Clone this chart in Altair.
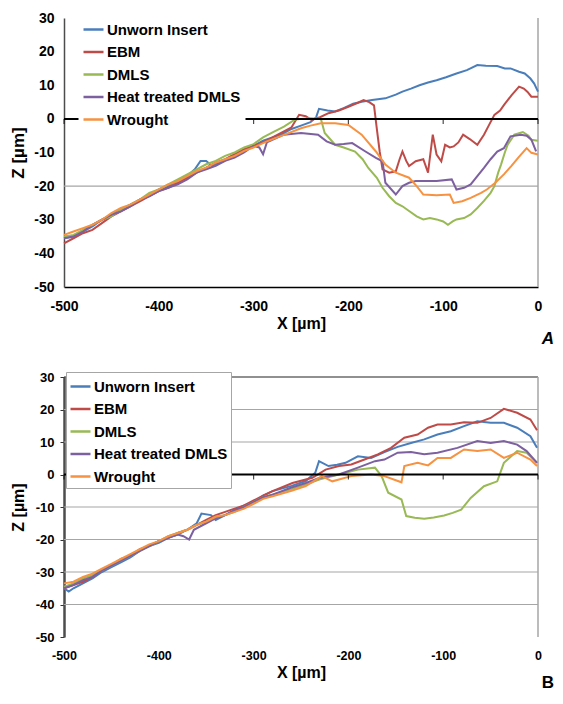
import altair as alt
import pandas as pd

SERIES = ["Unworn Insert", "EBM", "DMLS", "Heat treated DMLS", "Wrought"]
COLORS = ["#4A7EBB", "#BE4B48", "#98B954", "#7D60A0", "#F69240"]
X_TICKS = [-500, -400, -300, -200, -100, 0]
Y_TICKS = [30, 20, 10, 0, -10, -20, -30, -40, -50]

# ---------------- Panel A ----------------
a_unworn_x = [-500, -490, -480, -470, -460, -450, -440, -430, -420, -410, -400, -390, -380, -370, -362, -356, -350, -344, -335, -320, -310, -300, -290, -280, -270, -260, -250, -240, -234, -231, -222, -214, -205, -195, -186, -175, -161, -150, -143, -134, -125, -116, -107, -97, -86, -75, -64, -55, -43, -35, -29, -20, -14, -8, -4, 0]
a_unworn_z = [-35.5, -35, -33.5, -32, -30, -28.5, -27, -25.5, -24, -22.5, -21, -20, -18.5, -17, -15, -12.5, -12.5, -14, -13, -11, -9.5, -8, -6.5, -5.5, -4.5, -3, -2, -1, 0.5, 3, 2.5, 2.2, 3.2, 4.5, 5.1, 5.6, 6.1, 7.2, 8.1, 9, 10, 10.8, 11.5, 12.4, 13.5, 14.5, 16, 15.8, 15.7, 15, 15, 14, 13.5, 12, 10.5, 8.1]

a_ebm_x = [-500, -490, -480, -470, -460, -450, -440, -430, -420, -410, -400, -390, -380, -370, -360, -350, -340, -330, -320, -310, -300, -290, -280, -270, -260, -252, -245, -239, -230, -221, -210, -200, -190, -184, -178, -173, -170, -167, -164, -157, -150, -146, -143, -139, -136, -129, -121, -116, -111, -107, -102, -98, -93, -89, -84, -79, -72, -64, -57, -52, -46, -40, -36, -28, -20, -15, -11, -7, 0]
a_ebm_z = [-37, -35.5, -34, -33, -31, -29, -27.5, -26, -24.5, -23, -21.5, -20.5, -19, -17.5, -16, -14.5, -13, -12, -10.5, -9, -8, -7, -5.5, -4, -2.5, 1.2, 0.8, -0.3, 0.5, 1.7, 2.5, 3.6, 4.8, 5.6, 5, 4, -3, -9.7, -15, -16, -15.6, -12, -9.7, -12.5, -14, -12.6, -12, -16, -4.7, -10.6, -12.6, -7.7, -8.5, -8.2, -7, -4.7, -6, -7.7, -4.7, -2, 1.2, 2.5, 4.1, 7, 9.6, 9, 8, 6.6, 6.6]

a_dmls_x = [-500, -490, -480, -470, -460, -450, -440, -430, -420, -410, -400, -390, -380, -370, -360, -350, -340, -330, -320, -310, -300, -290, -280, -268, -257, -250, -240, -229, -225, -214, -205, -193, -185, -179, -170, -164, -157, -150, -143, -136, -128, -121, -114, -107, -100, -95, -90, -86, -78, -71, -64, -57, -50, -46, -42, -39, -35, -32, -25, -16, -10, -7, 0]
a_dmls_z = [-35, -34.5, -33, -31.5, -30, -29, -27, -25.5, -24, -22, -21, -19.5, -18, -16.5, -15, -13.5, -12.5, -11, -10, -8.5, -7.5, -5.5, -4, -2.3, -0.3, 0, 0.2, 0, -4.2, -7.7, -8.5, -9.7, -12, -14.6, -17.5, -20.5, -23, -25, -26, -27.4, -29, -29.9, -29.5, -29.9, -30.5, -31.5, -30.5, -29.9, -29.5, -28.4, -26.5, -24.4, -22, -20, -16, -13.6, -10, -7.7, -4.7, -3.9, -5, -6.2, -6.5]

a_heat_x = [-500, -490, -480, -470, -460, -450, -440, -430, -420, -410, -400, -390, -380, -370, -360, -350, -340, -330, -320, -310, -300, -294, -290, -286, -268, -250, -232, -223, -214, -205, -196, -182, -171, -164, -161, -150, -143, -136, -129, -118, -107, -91, -86, -78, -71, -64, -57, -50, -43, -36, -29, -18, -12, -7, -2]
a_heat_z = [-35.5, -35, -33.5, -31.5, -30, -28.5, -27.5, -26, -24, -23, -21.5, -20.5, -19.5, -18, -16, -15, -14, -12.5, -11.5, -10, -8, -8.5, -10.5, -7, -4.7, -4.2, -4.7, -6.7, -7.7, -7.5, -7.2, -9.7, -11.6, -12.6, -19, -22.5, -20, -19, -18.5, -18.5, -18.5, -18, -21, -20.5, -19.5, -17, -14.6, -12, -9.7, -8.7, -5.2, -4.7, -5, -6.2, -9.7]

a_wrought_x = [-500, -490, -480, -470, -460, -450, -440, -430, -420, -410, -400, -390, -380, -370, -360, -350, -340, -330, -320, -310, -300, -286, -270, -250, -240, -229, -214, -200, -186, -171, -161, -150, -136, -128, -121, -107, -93, -89, -80, -71, -60, -54, -45, -36, -28, -21, -12, -7, 0]
a_wrought_z = [-34.5, -33.5, -32.5, -31.5, -30, -28, -26.5, -25.5, -24, -22.5, -21, -19.5, -18.5, -17, -15.5, -14.5, -13, -12, -11, -9.5, -8.5, -6.7, -5, -2.8, -2, -1.3, -1.3, -1.8, -4.7, -9.7, -13.6, -16, -17.5, -20, -22.5, -22.7, -22.5, -25, -24.5, -23.5, -22, -21, -19, -16.5, -14, -11.6, -8.7, -10.1, -10.6]

# ---------------- Panel B ----------------
b_unworn_x = [-500, -495, -490, -480, -470, -460, -450, -440, -430, -420, -410, -400, -390, -380, -370, -360, -355, -345, -340, -330, -320, -310, -300, -290, -280, -260, -245, -235, -231, -221, -212, -203, -190, -176, -162, -148, -134, -120, -106, -92, -78, -64, -50, -36, -22, -8, -1]
b_unworn_z = [-35, -36, -35, -33.5, -32, -30, -28.5, -27, -25.5, -23.5, -22, -21, -19.5, -18.5, -17, -15, -12, -12.5, -14, -12.5, -11, -9.5, -8.5, -6.5, -5.1, -3.5, -2, 0.5, 4.1, 2.6, 3, 3.6, 5.6, 5.1, 6.9, 8.5, 9.7, 10.8, 12.3, 13.3, 14.9, 16.4, 15.9, 15.9, 14.4, 11.8, 8.2]

b_ebm_x = [-500, -490, -480, -470, -460, -450, -440, -430, -420, -410, -400, -390, -380, -370, -360, -350, -340, -330, -320, -310, -300, -290, -280, -259, -238, -224, -210, -197, -183, -169, -155, -141, -127, -116, -106, -92, -78, -64, -50, -36, -22, -8, -1]
b_ebm_z = [-35, -34, -33, -31.5, -29.5, -28, -26, -25, -23, -22, -20.5, -19.5, -18, -17, -15.5, -14, -12.5, -11.5, -10.5, -9.5, -8, -6.5, -5.1, -2.6, -1, 1.5, 2.6, 3.1, 4.6, 6.2, 8.2, 11.3, 12.3, 14.4, 15.4, 15.4, 16.1, 15.9, 17.4, 20.2, 19, 16.9, 13.6]

b_dmls_x = [-500, -490, -480, -470, -460, -450, -440, -430, -420, -410, -400, -390, -380, -370, -360, -350, -340, -330, -320, -310, -300, -290, -280, -260, -245, -230, -210, -190, -172, -165, -158, -144, -139, -130, -120, -110, -99, -90, -81, -71, -57, -43, -36, -22, -12, -1]
b_dmls_z = [-34.5, -33.5, -32, -31, -29.5, -28, -26.5, -25, -23.5, -22, -20.5, -19, -18, -17, -15.5, -14.5, -13, -12.5, -11.5, -10, -8.5, -7, -6.2, -4.5, -3.1, -1.5, 0, 1.5, 2.1, -0.5, -5.6, -7.7, -12.8, -13.3, -13.6, -13.2, -12.6, -11.8, -10.8, -7.2, -3.6, -2.1, 3.6, 7.2, 6.7, 3.6]

b_heat_x = [-500, -490, -480, -470, -460, -450, -440, -430, -420, -410, -400, -390, -380, -374, -368, -363, -350, -340, -330, -320, -310, -300, -290, -280, -260, -245, -230, -210, -190, -172, -162, -148, -134, -120, -106, -85, -64, -50, -36, -22, -12, -1]
b_heat_z = [-35, -34, -32.5, -31.5, -29.5, -28, -26.5, -25, -23.5, -22, -20.5, -19.5, -18.5, -19, -20, -17, -15, -13.5, -12.5, -11, -10, -8.5, -7, -6.2, -4, -2.6, -1, 0, 2.1, 4.1, 4.6, 6.7, 6.9, 6.2, 6.7, 8.2, 10.3, 9.7, 10.3, 9.2, 7.2, 3.6]

b_wrought_x = [-500, -490, -480, -470, -460, -450, -440, -430, -420, -410, -400, -390, -380, -370, -360, -350, -340, -330, -320, -310, -300, -290, -280, -260, -245, -228, -217, -197, -176, -162, -144, -141, -127, -116, -106, -92, -78, -64, -50, -36, -22, -8, -1]
b_wrought_z = [-33.5, -33, -31.5, -30.5, -29, -27.5, -26, -24.5, -23, -21.5, -20.5, -19, -18, -17, -15.5, -14.5, -13, -12.5, -11.5, -10.5, -9, -7.5, -6.7, -5, -3.6, -0.5, -2.1, -0.5, 0, -0.5, -2.4, 2.6, 3.6, 2.8, 5.1, 5.1, 7.7, 7.2, 7.7, 5.1, 6.7, 4.6, 2.6]


def long_df(pairs):
    rows = []
    for name, xs, zs in pairs:
        for xv, zv in zip(xs, zs):
            rows.append({"series": name, "x": xv, "z": zv})
    return pd.DataFrame(rows)


df_a = long_df([
    (SERIES[0], a_unworn_x, a_unworn_z),
    (SERIES[1], a_ebm_x, a_ebm_z),
    (SERIES[2], a_dmls_x, a_dmls_z),
    (SERIES[3], a_heat_x, a_heat_z),
    (SERIES[4], a_wrought_x, a_wrought_z),
])
df_b = long_df([
    (SERIES[0], b_unworn_x, b_unworn_z),
    (SERIES[1], b_ebm_x, b_ebm_z),
    (SERIES[2], b_dmls_x, b_dmls_z),
    (SERIES[3], b_heat_x, b_heat_z),
    (SERIES[4], b_wrought_x, b_wrought_z),
])

FONT = "Liberation Sans"
XDOM = [-500, 0]
YDOM = [-50, 30]


def make_panel(df, w, h, letter, letter_pos, letter_italic, grid_vals, top_line, bottom_line,
               ylab_size, ytick, ylab_pad, ytitle_pad, ydomain_w, xlab_size, xlab_pad, xtitle_size,
               xtitle_pad, legend_x, legend_y, legend_stroke, legend_pad, ytitle_size):
    xscale = alt.Scale(domain=XDOM, nice=False, zero=False)
    yscale = alt.Scale(domain=YDOM, nice=False, zero=False)
    xaxis = alt.Axis(values=X_TICKS, labelExpr="'' + datum.value", domain=bottom_line,
                     domainColor="black", domainWidth=1.5, ticks=False, tickSize=0,
                     labelPadding=xlab_pad, labelFontSize=xlab_size,
                     labelFontWeight="bold", labelColor="black", labelFlush=False,
                     title="X [µm]", titleFontSize=xtitle_size, titleFontWeight="bold",
                     titleColor="black", titlePadding=xtitle_pad, grid=False)
    yaxis = alt.Axis(values=Y_TICKS, labelExpr="'' + datum.value", domainColor="#4D4D4D",
                     domainWidth=ydomain_w, tickColor="#333333", tickSize=ytick, ticks=ytick > 0,
                     labelPadding=ylab_pad, labelFontSize=ylab_size, labelFontWeight="bold",
                     labelColor="black", labelFlush=False, title="Z [µm]",
                     titleFontSize=ytitle_size, titleFontWeight="bold", titleColor="black",
                     titlePadding=ytitle_pad, grid=False)
    X = lambda: alt.X("x:Q", scale=xscale, axis=xaxis)
    Y = lambda: alt.Y("z:Q", scale=yscale, axis=yaxis)

    layers = []
    layers.append(alt.Chart(pd.DataFrame({"z": grid_vals})).mark_rule(
        color="#A6A6A6", strokeWidth=1.2).encode(y=Y()))
    if top_line:
        layers.append(alt.Chart(pd.DataFrame({"z": [YDOM[1]]})).mark_rule(
            color="#222222", strokeWidth=1.2).encode(y=Y()))
    layers.append(alt.Chart(pd.DataFrame({"x": [XDOM[1]]})).mark_rule(
        color="#A6A6A6", strokeWidth=1.5).encode(x=X()))

    lines = alt.Chart(df).mark_line(strokeWidth=2).encode(
        x=X(), y=Y(),
        color=alt.Color("series:N", scale=alt.Scale(domain=SERIES, range=COLORS),
                        legend=alt.Legend(title=None, orient="none", legendX=legend_x, legendY=legend_y,
                                          symbolType="stroke", symbolSize=400, symbolStrokeWidth=2.5,
                                          labelFontSize=15, labelFontWeight="bold", labelColor="black",
                                          labelOffset=2, rowPadding=2.5, padding=legend_pad,
                                          fillColor="white", strokeColor=legend_stroke,
                                          labelLimit=300)),
    )
    layers.append(lines)

    # zero line (x axis crossing) with its tick marks
    layers.append(alt.Chart(pd.DataFrame({"z": [0]})).mark_rule(
        color="black", strokeWidth=2).encode(y=Y()))
    layers.append(alt.Chart(pd.DataFrame({"x": X_TICKS, "z": [0] * len(X_TICKS)})).mark_tick(
        orient="vertical", size=5, thickness=1.2, yOffset=2.5, color="black").encode(x=X(), y=Y()))

    txt = alt.Chart(pd.DataFrame({"t": [letter]})).mark_text(
        fontSize=17, fontWeight="bold", fontStyle="italic" if letter_italic else "normal",
        align="center", baseline="middle", color="black", font=FONT).encode(
        text="t:N", x=alt.value(letter_pos[0]), y=alt.value(letter_pos[1]))
    layers.append(txt)

    return alt.layer(*layers).properties(width=w, height=h)


panel_a = make_panel(df_a, 474, 269, "A", (484, 321), True, [-20], False, True,
                     ylab_size=14, ytick=0, ylab_pad=10, ytitle_pad=6, ydomain_w=1.5,
                     xlab_size=14, xlab_pad=12, xtitle_size=16, xtitle_pad=2,
                     legend_x=14, legend_y=-4, legend_stroke="transparent", legend_pad=4,
                     ytitle_size=17)
panel_b = make_panel(df_b, 474, 260, "B", (484, 306), False, [20, 10, -10, -20, -30, -40], True, False,
                     ylab_size=13, ytick=4, ylab_pad=6, ytitle_pad=9, ydomain_w=2.5,
                     xlab_size=12.5, xlab_pad=12, xtitle_size=16, xtitle_pad=3,
                     legend_x=2, legend_y=-5, legend_stroke="#A6A6A6", legend_pad=3,
                     ytitle_size=16)

chart = alt.concat(panel_a, panel_b, columns=1, spacing=24, align="none", bounds="full").properties(
    padding={"left": 1, "top": 3, "right": 0, "bottom": 0}
).resolve_legend(color="independent").configure(font=FONT).configure_view(stroke=None)

chart.save("out.html", embed_options={"renderer": "svg", "actions": False})
